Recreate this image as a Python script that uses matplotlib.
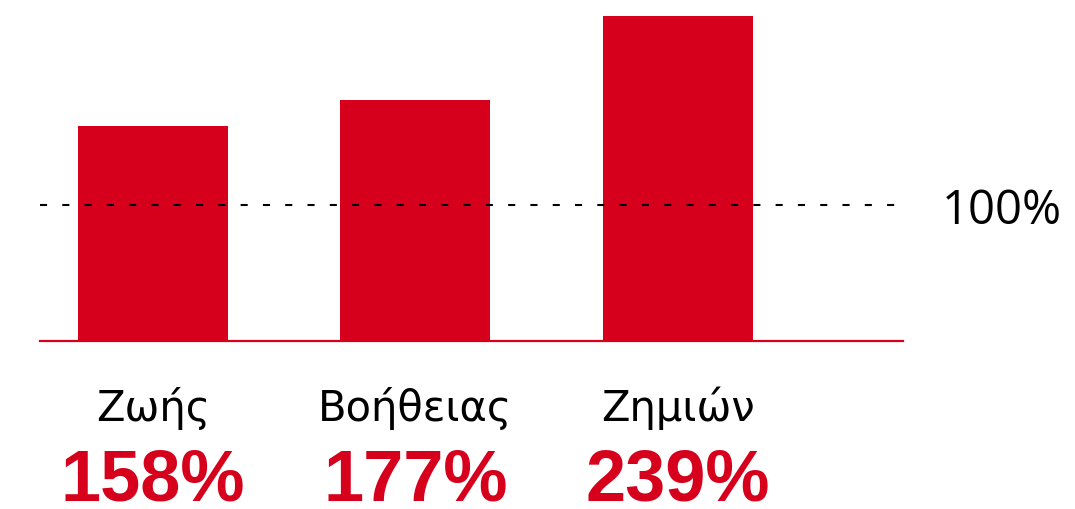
import matplotlib
matplotlib.use("Agg")
import matplotlib.pyplot as plt
from matplotlib.transforms import blended_transform_factory

categories = ["Ζωής", "Βοήθειας", "Ζημιών"]
values = [158, 177, 239]
value_labels = ["158%", "177%", "239%"]
reference = 100
reference_label = "100%"

RED = "#D6001C"

fig = plt.figure(figsize=(10.75, 5.10), dpi=100)
W, H = 1075, 510
ax = fig.add_axes([40 / W, (H - 342) / H, 863 / W, (342 - 17) / H])

x = list(range(len(categories)))
ax.bar(x, values, width=0.571, color=RED, zorder=1)
ax.set_xlim(-0.43, 2.857)
ax.set_ylim(0, max(values))

ax.axhline(reference, color="black", lw=1.5, dashes=(3.4, 7.3), zorder=3)
ax.axhline(0, color=RED, lw=1.6, zorder=2, clip_on=False)

for s in ax.spines.values():
    s.set_visible(False)
ax.set_xticks([])
ax.set_yticks([])
ax.patch.set_alpha(0)

tr = blended_transform_factory(ax.transData, fig.transFigure)
for xi, cat, lab in zip(x, categories, value_labels):
    ax.text(xi, 1 - 421 / H, cat, transform=tr, ha="center", va="baseline",
            fontsize=30, family="DejaVu Sans", color="black")
    ax.text(xi, 1 - 501 / H, lab, transform=tr, ha="center", va="baseline",
            fontsize=52, family="Liberation Sans", fontweight="bold", color=RED)

tr2 = blended_transform_factory(fig.transFigure, ax.transData)
ax.text(942 / W, reference, reference_label, transform=tr2, ha="left", va="center_baseline",
        fontsize=34, family="Open Sans", color="black")

fig.savefig("out.png", dpi=100)
